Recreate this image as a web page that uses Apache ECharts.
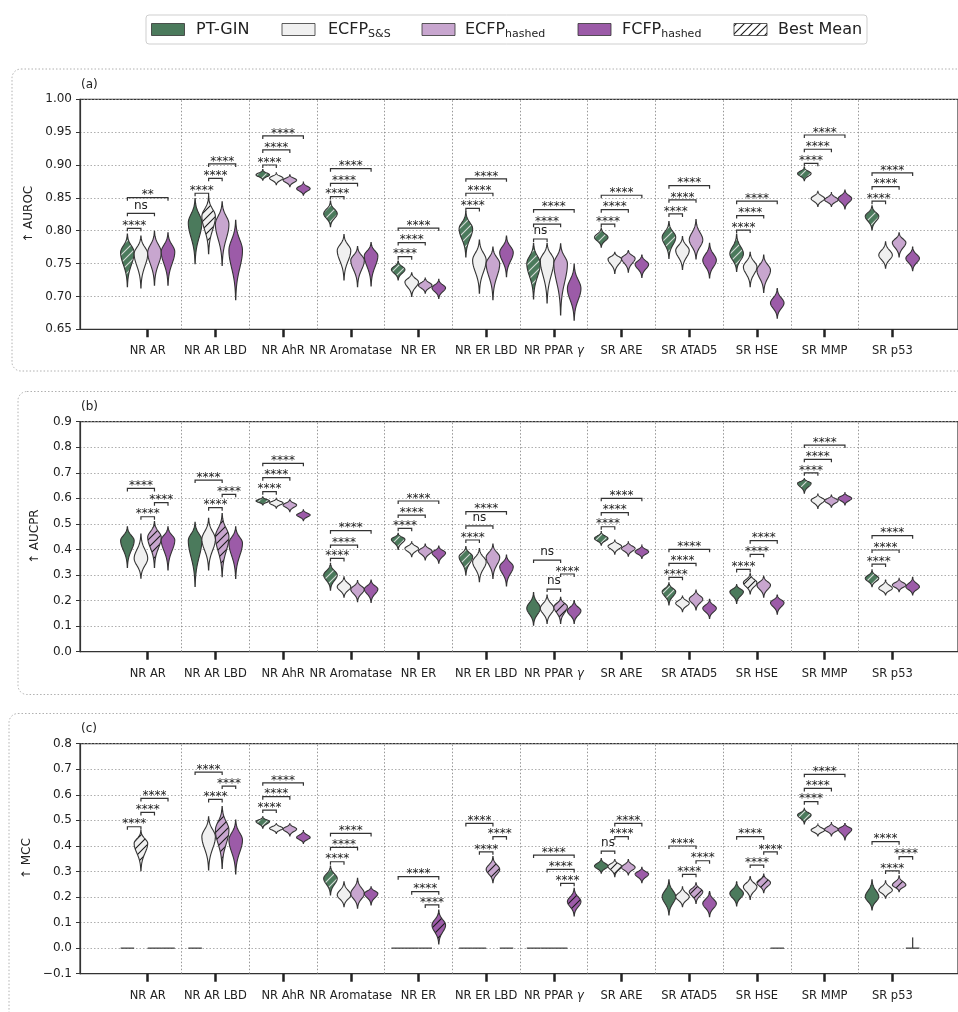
<!DOCTYPE html>
<html>
<head>
<meta charset="utf-8">
<script src="https://cdn.jsdelivr.net/npm/echarts@6/dist/echarts.min.js"></script>
<style>
html, body { margin: 0; padding: 0; background: #fff; }
#chart { width: 958px; height: 1012px; }
</style>
</head>
<body>
<div id="chart"></div>
<script>
// ---- categories and methods ----
const tasks = ['NR AR', 'NR AR LBD', 'NR AhR', 'NR Aromatase', 'NR ER', 'NR ER LBD',
  'NR PPAR γ', 'SR ARE', 'SR ATAD5', 'SR HSE', 'SR MMP', 'SR p53'];
const methods = ['PT-GIN', 'ECFP', 'ECFP', 'FCFP'];
const methodSubs = ['', 'S&S', 'hashed', 'hashed'];

// ---- violin summaries per task: [min, mode, max] ----
// (a) AUROC
const aurocPTGIN = [[0.715,0.767,0.795],[0.750,0.812,0.849],[0.877,0.885,0.893],[0.806,0.826,0.845],
  [0.725,0.741,0.754],[0.760,0.803,0.829],[0.696,0.750,0.781],[0.775,0.790,0.804],
  [0.758,0.790,0.814],[0.738,0.765,0.795],[0.876,0.887,0.897],[0.801,0.822,0.838]];
const aurocECFPss = [[0.713,0.765,0.792],[0.765,0.822,0.852],[0.870,0.880,0.888],[0.725,0.770,0.794],
  [0.700,0.722,0.736],[0.705,0.755,0.786],[0.690,0.755,0.781],[0.735,0.757,0.767],
  [0.741,0.770,0.791],[0.715,0.745,0.767],[0.837,0.849,0.860],[0.743,0.763,0.783]];
const aurocECFPhashed = [[0.717,0.767,0.799],[0.747,0.810,0.844],[0.867,0.877,0.885],[0.715,0.755,0.776],
  [0.705,0.717,0.728],[0.695,0.750,0.775],[0.672,0.750,0.780],[0.737,0.758,0.770],
  [0.757,0.786,0.817],[0.706,0.740,0.763],[0.837,0.847,0.858],[0.760,0.782,0.797]];
const aurocFCFPhashed = [[0.717,0.768,0.797],[0.695,0.770,0.816],[0.854,0.864,0.874],[0.716,0.762,0.782],
  [0.697,0.713,0.726],[0.730,0.767,0.792],[0.664,0.712,0.749],[0.729,0.749,0.763],
  [0.728,0.755,0.781],[0.667,0.690,0.712],[0.833,0.849,0.862],[0.739,0.758,0.775]];
const aurocBest = [0,1,0,0,0,0,0,0,0,0,0,0];
// [task, method A, method B, bracket level, annotation]
const aurocBrackets = [
  [0,0,1,0.8037,'****'],[0,0,2,0.8265,'ns'],[0,0,3,0.8503,'**'],
  [1,0,1,0.857,'****'],[1,1,2,0.8798,'****'],[1,1,3,0.9016,'****'],
  [2,0,1,0.900,'****'],[2,0,2,0.9229,'****'],[2,0,3,0.9442,'****'],
  [3,0,1,0.852,'****'],[3,0,2,0.872,'****'],[3,0,3,0.8945,'****'],
  [4,0,1,0.7605,'****'],[4,0,2,0.782,'****'],[4,0,3,0.804,'****'],
  [5,0,1,0.834,'****'],[5,0,2,0.857,'****'],[5,0,3,0.879,'****'],
  [6,0,1,0.7874,'ns'],[6,0,2,0.810,'****'],[6,0,3,0.832,'****'],
  [7,0,1,0.810,'****'],[7,0,2,0.832,'****'],[7,0,3,0.854,'****'],
  [8,0,1,0.8255,'****'],[8,0,2,0.847,'****'],[8,0,3,0.8686,'****'],
  [9,0,1,0.801,'****'],[9,0,2,0.823,'****'],[9,0,3,0.845,'****'],
  [10,0,1,0.9026,'****'],[10,0,2,0.924,'****'],[10,0,3,0.9457,'****'],
  [11,0,1,0.845,'****'],[11,0,2,0.867,'****'],[11,0,3,0.888,'****']];

// (b) AUCPR
const aucprPTGIN = [[0.330,0.435,0.489],[0.255,0.435,0.506],[0.574,0.590,0.606],[0.241,0.300,0.346],
  [0.400,0.440,0.463],[0.300,0.372,0.411],[0.104,0.170,0.231],[0.417,0.443,0.470],
  [0.183,0.235,0.270],[0.189,0.235,0.263],[0.620,0.659,0.678],[0.254,0.287,0.320]];
const aucprECFPss = [[0.288,0.365,0.460],[0.320,0.440,0.522],[0.562,0.582,0.600],[0.213,0.254,0.293],
  [0.372,0.404,0.430],[0.274,0.352,0.404],[0.111,0.170,0.222],[0.382,0.413,0.437],
  [0.157,0.190,0.218],[0.226,0.270,0.306],[0.561,0.593,0.617],[0.222,0.248,0.280]];
const aucprECFPhashed = [[0.330,0.448,0.509],[0.293,0.450,0.541],[0.548,0.574,0.596],[0.196,0.244,0.278],
  [0.359,0.394,0.421],[0.287,0.370,0.421],[0.111,0.176,0.213],[0.374,0.404,0.430],
  [0.163,0.206,0.241],[0.213,0.261,0.296],[0.565,0.591,0.613],[0.235,0.261,0.287]];
const aucprFCFPhashed = [[0.320,0.437,0.489],[0.287,0.425,0.489],[0.513,0.535,0.555],[0.193,0.245,0.280],
  [0.346,0.387,0.413],[0.257,0.333,0.378],[0.111,0.160,0.200],[0.365,0.391,0.417],
  [0.130,0.170,0.205],[0.147,0.192,0.222],[0.574,0.600,0.622],[0.222,0.254,0.291]];
const aucprBest = [2,2,0,0,0,0,2,0,0,1,0,0];
const aucprBrackets = [
  [0,1,2,0.528,'****'],[0,2,3,0.583,'****'],[0,0,2,0.639,'****'],
  [1,1,2,0.5635,'****'],[1,2,3,0.6157,'****'],[1,0,2,0.6717,'****'],
  [2,0,1,0.626,'****'],[2,0,2,0.681,'****'],[2,0,3,0.737,'****'],
  [3,0,1,0.365,'****'],[3,0,2,0.4174,'****'],[3,0,3,0.4735,'****'],
  [4,0,1,0.4826,'****'],[4,0,2,0.5348,'****'],[4,0,3,0.5896,'****'],
  [5,0,1,0.437,'****'],[5,0,2,0.492,'ns'],[5,0,3,0.548,'****'],
  [6,1,2,0.245,'ns'],[6,2,3,0.304,'****'],[6,0,2,0.3587,'ns'],
  [7,0,1,0.489,'****'],[7,0,2,0.544,'****'],[7,0,3,0.600,'****'],
  [8,0,1,0.291,'****'],[8,0,2,0.3457,'****'],[8,0,3,0.4005,'****'],
  [9,0,1,0.322,'****'],[9,1,2,0.381,'****'],[9,1,3,0.4344,'****'],
  [10,0,1,0.700,'****'],[10,0,2,0.7526,'****'],[10,0,3,0.8087,'****'],
  [11,0,1,0.343,'****'],[11,0,2,0.398,'****'],[11,0,3,0.454,'****']];

// (c) MCC
const mccPTGIN = [[0,0,0],[0,0,0],[0.469,0.496,0.514],[0.208,0.273,0.321],
  [0,0,0],[0,0,0],[0,0,0],[0.293,0.321,0.351],
  [0.130,0.201,0.267],[0.165,0.214,0.260],[0.486,0.521,0.547],[0.149,0.201,0.267]];
const mccECFPss = [[0.303,0.410,0.460],[0.306,0.436,0.514],[0.449,0.469,0.488],[0.162,0.208,0.260],
  [0,0,0],[0,0,0],[0,0,0],[0.280,0.321,0.347],
  [0.162,0.201,0.240],[0.191,0.240,0.280],[0.439,0.462,0.486],[0.195,0.227,0.264]];
const mccECFPhashed = [[0,0,0],[0.312,0.462,0.554],[0.439,0.466,0.488],[0.156,0.214,0.273],
  [0,0,0],[0.256,0.308,0.358],[0,0,0],[0.286,0.316,0.347],
  [0.175,0.221,0.256],[0.217,0.256,0.290],[0.439,0.465,0.491],[0.221,0.247,0.283]];
const mccFCFPhashed = [[0,0,0],[0.290,0.423,0.501],[0.410,0.433,0.460],[0.169,0.214,0.240],
  [0.016,0.090,0.149],[0,0,0],[0.126,0.182,0.234],[0.256,0.290,0.316],
  [0.123,0.175,0.221],[0,0,0],[0.423,0.465,0.488],[0,0,0.042]];
const mccBest = [1,2,0,0,3,2,3,1,2,2,0,2];
const mccBrackets = [
  [0,0,1,0.475,'****'],[0,1,2,0.531,'****'],[0,1,3,0.586,'****'],
  [1,1,2,0.582,'****'],[1,2,3,0.634,'****'],[1,0,2,0.689,'****'],
  [2,0,1,0.5404,'****'],[2,0,2,0.5926,'****'],[2,0,3,0.647,'****'],
  [3,0,1,0.338,'****'],[3,0,2,0.394,'****'],[3,0,3,0.449,'****'],
  [4,2,3,0.169,'****'],[4,1,3,0.221,'****'],[4,0,3,0.2796,'****'],
  [5,1,2,0.377,'****'],[5,2,3,0.436,'****'],[5,0,2,0.488,'****'],
  [6,2,3,0.2535,'****'],[6,1,3,0.308,'****'],[6,0,3,0.364,'****'],
  [7,0,1,0.380,'ns'],[7,1,2,0.436,'****'],[7,1,3,0.488,'****'],
  [8,1,2,0.2887,'****'],[8,2,3,0.342,'****'],[8,0,2,0.3996,'****'],
  [9,1,2,0.325,'****'],[9,2,3,0.377,'****'],[9,0,2,0.436,'****'],
  [10,0,1,0.573,'****'],[10,0,2,0.625,'****'],[10,0,3,0.680,'****'],
  [11,1,2,0.302,'****'],[11,2,3,0.358,'****'],[11,0,2,0.4165,'****']];

// ---- styling ----
const FONT = 'DejaVu Sans';
const INK = '#222';
const methodColors = ['#4b7a5c', '#f0f0f0', '#c8a6cf', '#9c5ba8'];
const hatchInk = ['rgba(230,230,230,0.9)', '#1a1a1a', '#1a1a1a', '#1a1a1a'];

// diagonal "/" hatch tile: lines x + y = k * s repeat seamlessly
function hatchPattern(base, line) {
  const s = 8;
  const c = document.createElement('canvas');
  c.width = s; c.height = s;
  const g = c.getContext('2d');
  g.fillStyle = base;
  g.fillRect(0, 0, s, s);
  g.strokeStyle = line;
  g.lineWidth = 1.1;
  g.beginPath();
  g.moveTo(-1, s + 1); g.lineTo(s + 1, -1);
  g.moveTo(-1, 1); g.lineTo(1, -1);
  g.moveTo(s - 1, s + 1); g.lineTo(s + 1, s - 1);
  g.stroke();
  return { image: c, repeat: 'repeat' };
}
const hatchFills = methodColors.map((c, i) => hatchPattern(c, hatchInk[i]));

const panels = [
  { top: 99.3, min: 0.65, max: 1.0, interval: 0.05, digits: 2, name: '↑ AUROC', nameX: 29, tag: '(a)',
    values: [aurocPTGIN, aurocECFPss, aurocECFPhashed, aurocFCFPhashed], best: aurocBest, brackets: aurocBrackets,
    box: [12, 69, 980, 302] },
  { top: 421.7, min: 0.0, max: 0.9, interval: 0.1, digits: 1, name: '↑ AUCPR', nameX: 35, tag: '(b)',
    values: [aucprPTGIN, aucprECFPss, aucprECFPhashed, aucprFCFPhashed], best: aucprBest, brackets: aucprBrackets,
    box: [18, 391.5, 980, 303] },
  { top: 743.7, min: -0.1, max: 0.8, interval: 0.1, digits: 1, name: '↑ MCC', nameX: 27, tag: '(c)',
    values: [mccPTGIN, mccECFPss, mccECFPhashed, mccFCFPhashed], best: mccBest, brackets: mccBrackets,
    box: [9, 713.5, 980, 330] }
];
const PLOT_H = 230;
const X_MIN = -1, X_MAX = 11.97;
const DODGE = 0.2;
const taskIdx = tasks.map((_, i) => i);
const separators = tasks.slice(1).map((_, i) => i + 0.5);

function offsetX(task, m) { return task + (m - 1.5) * DODGE; }

function violinRenderer(m, best) {
  return function (params, api) {
    const i = api.value(0), lo = api.value(1), pk = api.value(2), hi = api.value(3);
    const xv = offsetX(i, m);
    const cx = api.coord([xv, pk])[0];
    const hw = api.size([DODGE / 2, 0])[0];
    const flatStyle = { stroke: '#444', lineWidth: 1.3 };
    if (hi <= lo) {
      const y = api.coord([xv, lo])[1];
      return { type: 'line', shape: { x1: cx - hw, y1: y, x2: cx + hw, y2: y }, style: flatStyle };
    }
    if (pk <= lo || pk >= hi) {
      const y0 = api.coord([xv, pk])[1];
      const y1 = api.coord([xv, pk <= lo ? hi : lo])[1];
      return { type: 'group', children: [
        { type: 'line', shape: { x1: cx - hw, y1: y0, x2: cx + hw, y2: y0 }, style: flatStyle },
        { type: 'line', shape: { x1: cx, y1: y0, x2: cx, y2: y1 }, style: flatStyle }
      ] };
    }
    const steps = [];
    const N = 48;
    for (let k = 0; k <= N; k++) steps.push(lo + (hi - lo) * k / N);
    steps.push(pk);
    steps.sort((a, b) => a - b);
    const right = [], left = [];
    steps.forEach(v => {
      const t = v < pk ? (pk - v) / (pk - lo) : (v - pk) / (hi - pk);
      const w = hw * Math.exp(-4.0 * t * t);
      const y = api.coord([xv, v])[1];
      right.push([cx + w, y]);
      left.push([cx - w, y]);
    });
    const pts = right.concat(left.reverse());
    const fill = best[i] === m ? hatchFills[m] : methodColors[m];
    return { type: 'polygon', shape: { points: pts },
      style: { fill: fill, stroke: '#333', lineWidth: 1.1 } };
  };
}

function bracketRenderer(list) {
  return function (params, api) {
    const b = list[params.dataIndex];
    const x1 = api.coord([offsetX(b[0], b[1]), b[3]])[0];
    const x2 = api.coord([offsetX(b[0], b[2]), b[3]])[0];
    const y = api.coord([b[0], b[3]])[1];
    const label = b[4];
    const ty = label === 'ns' ? y - 7.8 : y - 2.4;
    return { type: 'group', children: [
      { type: 'polyline', shape: { points: [[x1, y + 3], [x1, y], [x2, y], [x2, y + 3]] },
        style: { stroke: '#333', lineWidth: 1.2, fill: null } },
      { type: 'text', x: (x1 + x2) / 2, y: ty,
        style: { text: label, fill: INK, font: '12px "' + FONT + '"', align: 'center', verticalAlign: 'middle' } }
    ] };
  };
}

const grids = [], xAxes = [], yAxes = [], series = [];
panels.forEach((p, pi) => {
  grids.push({ left: 80, top: p.top, width: 880, height: PLOT_H, show: true,
    borderColor: '#333', borderWidth: 1.2, backgroundColor: 'transparent' });
  xAxes.push({
    gridIndex: pi, type: 'value', min: X_MIN, max: X_MAX,
    axisLine: { show: true, onZero: false, lineStyle: { color: '#333', width: 1.2 } },
    axisTick: { show: true, customValues: taskIdx, length: 8, lineStyle: { color: INK, width: 2.5 } },
    axisLabel: { show: true, customValues: taskIdx, margin: 16, fontFamily: FONT, fontSize: 11.5, color: INK,
      formatter: v => (tasks[Math.round(v)] || '').replace('γ', '{g|γ}'),
      rich: { g: { fontFamily: FONT, fontSize: 11.5, fontStyle: 'italic', color: INK } } },
    splitLine: { show: false }
  });
  yAxes.push({
    gridIndex: pi, type: 'value', min: p.min, max: p.max, interval: p.interval,
    axisLine: { show: true, onZero: false, lineStyle: { color: '#333', width: 1.2 } },
    axisTick: { show: true, length: 4, lineStyle: { color: '#333', width: 1 } },
    axisLabel: { margin: 8, fontFamily: FONT, fontSize: 12, color: INK,
      formatter: v => { const s = Math.abs(v).toFixed(p.digits); return v < -1e-9 ? '−' + s : s; } },
    splitLine: { show: true, lineStyle: { type: [1.5, 2], color: '#9a9a9a', width: 0.8 } }
  });
  // separators between task groups + significance brackets
  series.push({
    type: 'custom', xAxisIndex: pi, yAxisIndex: pi, z: 5,
    data: p.brackets.map(b => [b[0], b[3]]),
    renderItem: bracketRenderer(p.brackets),
    markLine: { silent: true, symbol: ['none', 'none'], label: { show: false },
      lineStyle: { type: [1.5, 2], color: '#8a8a8a', width: 0.9 },
      data: separators.map(x => ({ xAxis: x })) }
  });
  p.values.forEach((vals, m) => {
    series.push({
      type: 'custom', xAxisIndex: pi, yAxisIndex: pi, z: 4,
      data: vals.map((v, i) => [i, v[0], v[1], v[2]]),
      encode: { x: 0, y: [1, 2, 3] },
      renderItem: violinRenderer(m, p.best)
    });
  });
});

// ---- frame decorations, axis titles, panel tags, legend ----
const graphics = [];
panels.forEach(p => {
  graphics.push({ type: 'rect', shape: { x: p.box[0], y: p.box[1], width: p.box[2], height: p.box[3], r: 9 },
    style: { fill: 'none', stroke: '#b0b0b0', lineWidth: 1, lineDash: [1.5, 2] }, silent: true, z: 0 });
  graphics.push({ type: 'text', x: p.nameX, y: p.top + PLOT_H / 2, rotation: Math.PI / 2,
    style: { text: p.name, font: '12px "' + FONT + '"', fill: INK, align: 'center', verticalAlign: 'middle',
      textAlign: 'center', textVerticalAlign: 'middle' } });
  graphics.push({ type: 'text', x: 81, y: p.top - 14.5,
    style: { text: p.tag, font: '12px "' + FONT + '"', fill: INK, align: 'left', verticalAlign: 'middle',
      textAlign: 'left', textVerticalAlign: 'middle' } });
});

const LEG_Y = 29.5;
graphics.push({ type: 'rect', shape: { x: 146, y: 15, width: 721, height: 29, r: 3 },
  style: { fill: '#fff', stroke: '#cfcfcf', lineWidth: 1 } });
const legendPatchX = [151.5, 282, 422, 578, 734];
const legendTextX = [196, 328, 465, 622, 778];
function legendText(x, text, size, dy) {
  return { type: 'text', x: x, y: LEG_Y + dy,
    style: { text: text, font: size + 'px "' + FONT + '"', fill: INK, align: 'left', verticalAlign: 'middle',
      textAlign: 'left', textVerticalAlign: 'middle' } };
}
methods.forEach((name, m) => {
  graphics.push({ type: 'rect', shape: { x: legendPatchX[m], y: LEG_Y - 6, width: 33, height: 12 },
    style: { fill: methodColors[m], stroke: '#333', lineWidth: 0.8 } });
  graphics.push(legendText(legendTextX[m], name, 16, 0));
  if (methodSubs[m]) {
    const mainW = name === 'FCFP' ? 39.2 : 40.1;
    graphics.push(legendText(legendTextX[m] + mainW, methodSubs[m], 11, 5));
  }
});
graphics.push({ type: 'rect', shape: { x: legendPatchX[4], y: LEG_Y - 6, width: 33, height: 12 },
  style: { fill: hatchPattern('#ffffff', '#1a1a1a'), stroke: '#333', lineWidth: 0.8 } });
graphics.push(legendText(legendTextX[4], 'Best Mean', 16, 0));

const chart = echarts.init(document.getElementById('chart'));
chart.setOption({
  animation: false,
  backgroundColor: '#fff',
  textStyle: { fontFamily: FONT },
  grid: grids,
  xAxis: xAxes,
  yAxis: yAxes,
  series: series,
  graphic: { elements: graphics }
});
</script>
</body>
</html>
